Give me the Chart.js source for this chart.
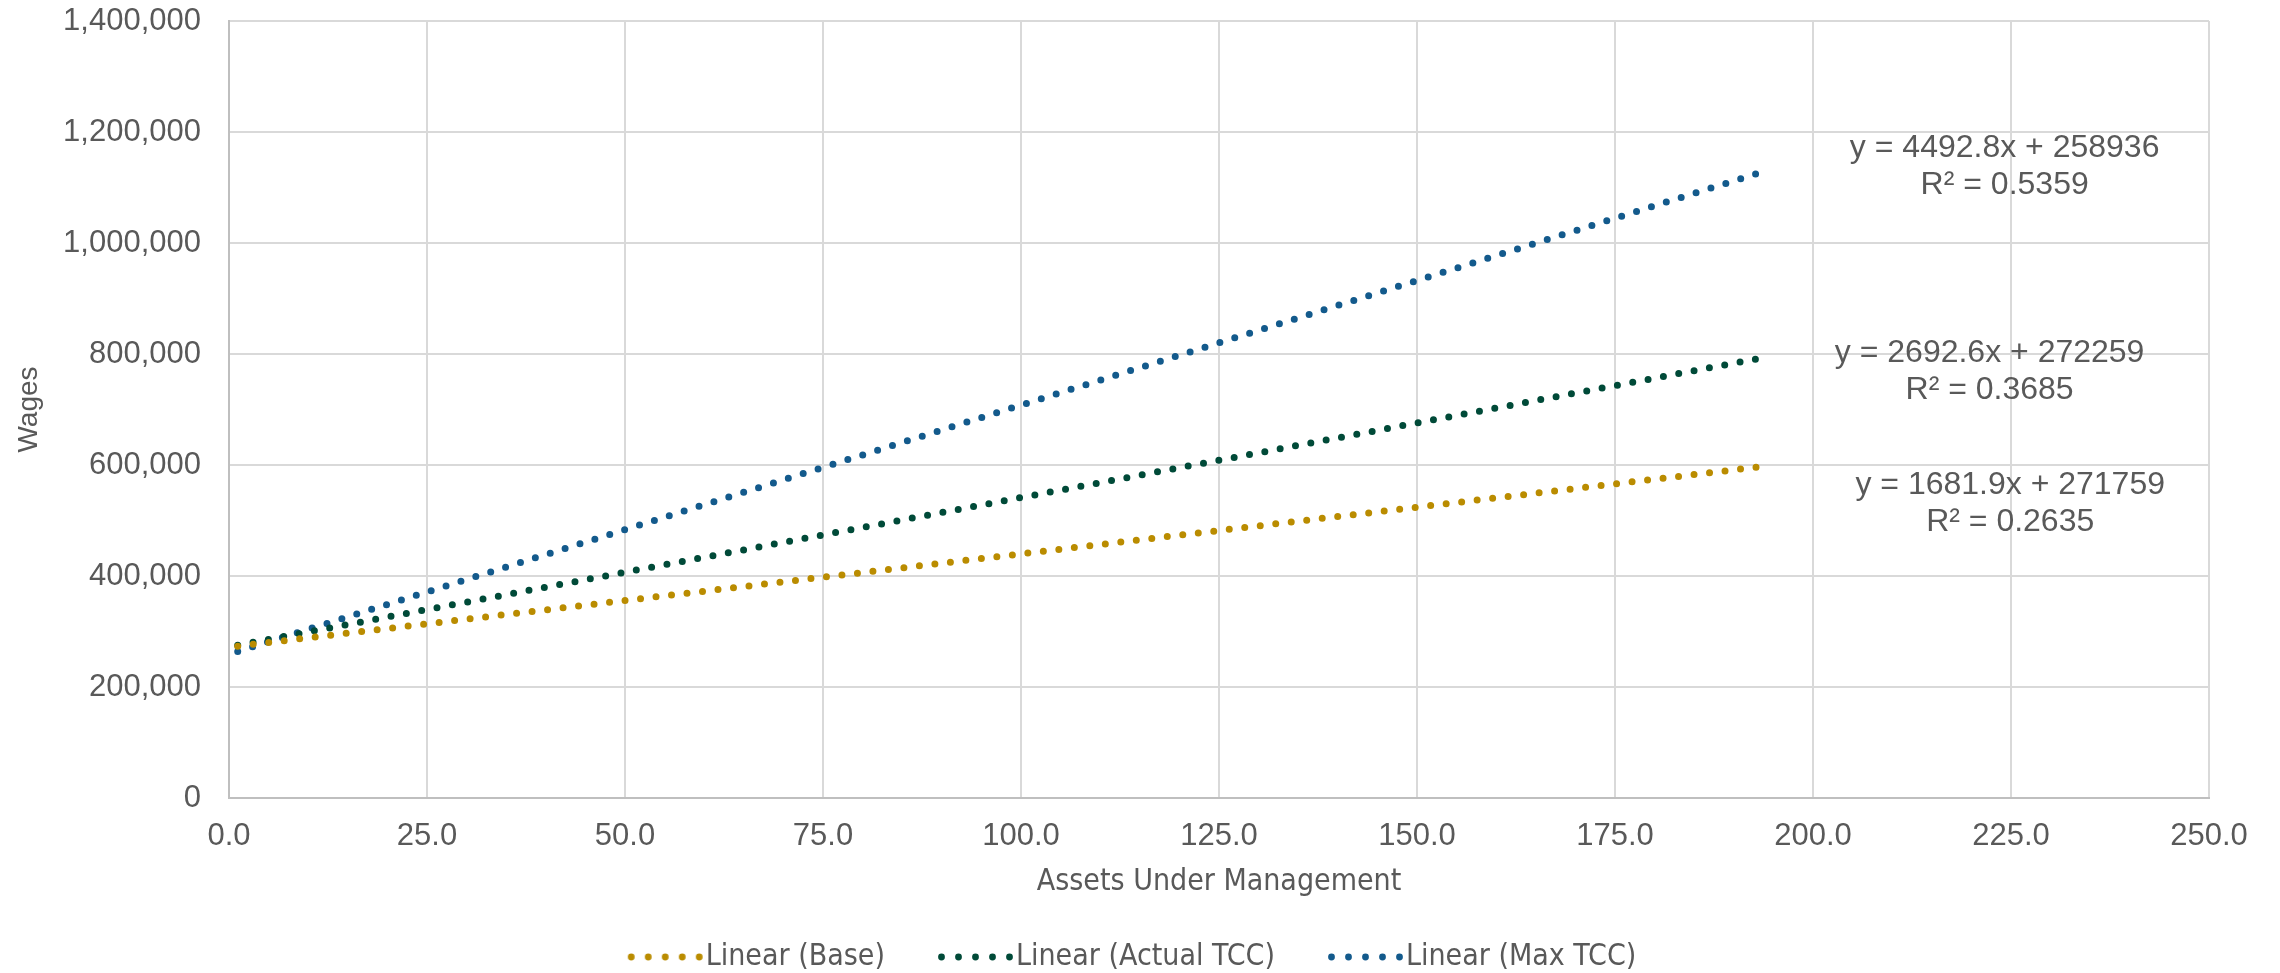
<!DOCTYPE html>
<html>
<head>
<meta charset="utf-8">
<script src="https://cdn.jsdelivr.net/npm/chart.js@4.4.1/dist/chart.umd.min.js"></script>
<style>
  html, body { margin: 0; padding: 0; background: #fff; }
  #wrap { width: 2280px; height: 973px; }
</style>
</head>
<body>
<div id="wrap"><canvas id="trendChart" width="2280" height="973"></canvas></div>
<script>
// trend line end points (x = assets, y = wages)
var seriesNames = ["Linear (Base)", "Linear (Actual TCC)", "Linear (Max TCC)"];
var seriesColors = ["#BA8C00", "#004A38", "#135A8C"];
var baseX = [1.1, 193.2];
var baseY = [273600, 596600];
var actualX = [1.1, 193.2];
var actualY = [275200, 792000];
var maxX = [1.1, 193.2];
var maxY = [264000, 1126300];

// equation labels: text lines and where they sit (data coordinates)
var eqLines = [
    ["y = 1681.9x + 271759", "R\u00b2 = 0.2635"],
    ["y = 2692.6x + 272259", "R\u00b2 = 0.3685"],
    ["y = 4492.8x + 258936", "R\u00b2 = 0.5359"]
];
var eqX = [224.9, 222.3, 224.2];
var eqY = [562900, 801000, 1170900];

var xTicks = [0, 25, 50, 75, 100, 125, 150, 175, 200, 225, 250];
var yTicks = [0, 200000, 400000, 600000, 800000, 1000000, 1200000, 1400000];

var textGrey = "#595959";
var plainFont = "'Liberation Sans', Arial, sans-serif";
var narrowFont = "'Liberation Sans Narrow', 'DejaVu Sans Condensed', 'Liberation Sans', sans-serif";

function toPoints(xs, ys) {
    var pts = [];
    for (var i = 0; i < xs.length; i++) {
        pts.push({x: xs[i], y: ys[i]});
    }
    return pts;
}

// five dots for the legend sample, pushed to the right so they meet the text
function dotSample(color) {
    var c = document.createElement("canvas");
    c.width = 106;
    c.height = 12;
    var ctx = c.getContext("2d");
    ctx.fillStyle = color;
    for (var i = 0; i < 5; i++) {
        ctx.beginPath();
        ctx.arc(30.5 + i * 17, 6, 3.4, 0, Math.PI * 2);
        ctx.fill();
    }
    return c;
}
var legendSamples = seriesColors.map(dotSample);

function dotted(label, pts, color) {
    return {
        label: label,
        data: pts,
        borderColor: color,
        backgroundColor: color,
        borderWidth: 7,
        borderCapStyle: "round",
        borderDash: [0, 15.6],
        pointRadius: 0,
        fill: false,
        tension: 0
    };
}

var equationLabels = {
    id: "equationLabels",
    afterDatasetsDraw: function (chart) {
        var ctx = chart.ctx;
        var xs = chart.scales.x, ys = chart.scales.y;
        ctx.save();
        ctx.font = "32px " + plainFont;
        ctx.fillStyle = textGrey;
        ctx.textAlign = "center";
        ctx.textBaseline = "middle";
        for (var i = 0; i < eqLines.length; i++) {
            var px = xs.getPixelForValue(eqX[i]);
            var py = ys.getPixelForValue(eqY[i]);
            for (var j = 0; j < eqLines[i].length; j++) {
                ctx.fillText(eqLines[i][j], px, py + j * 37);
            }
        }
        ctx.restore();
    }
};

// legend box is narrowed by the right padding, put it back under the page centre
var legendShift = {
    id: "legendShift",
    afterLayout: function (chart) {
        chart.legend.left += 22;
        chart.legend.right += 22;
    }
};

var chartElem = document.getElementById("trendChart");
var trendChart = new Chart(chartElem, {
    type: "line",
    data: {
        datasets: [
            dotted(seriesNames[0], toPoints(baseX, baseY), seriesColors[0]),
            dotted(seriesNames[1], toPoints(actualX, actualY), seriesColors[1]),
            dotted(seriesNames[2], toPoints(maxX, maxY), seriesColors[2])
        ]
    },
    options: {
        responsive: false,
        animation: false,
        layout: {padding: {top: 21, right: 71, left: 0, bottom: -9}},
        plugins: {
            tooltip: {enabled: false},
            legend: {
                position: "bottom",
                labels: {
                    usePointStyle: true,
                    pointStyleWidth: 74,
                    padding: 42,
                    color: textGrey,
                    font: {family: narrowFont, size: 30},
                    generateLabels: function (chart) {
                        return seriesNames.map(function (n, i) {
                            return {
                                text: n,
                                datasetIndex: i,
                                pointStyle: legendSamples[i],
                                fillStyle: seriesColors[i],
                                strokeStyle: seriesColors[i],
                                lineWidth: 0,
                                fontColor: textGrey,
                                hidden: false
                            };
                        });
                    }
                }
            }
        },
        scales: {
            x: {
                type: "linear",
                min: 0,
                max: 250,
                afterBuildTicks: function (scale) {
                    scale.ticks = xTicks.map(function (v) { return {value: v}; });
                },
                afterFit: function (scale) { scale.height = 102; },
                ticks: {
                    color: textGrey,
                    padding: 20,
                    maxRotation: 0,
                    font: {family: plainFont, size: 31},
                    callback: function (v) { return Number(v).toFixed(1); }
                },
                grid: {color: "#D9D9D9", lineWidth: 2, drawTicks: false},
                border: {color: "#BFBFBF", width: 2},
                title: {
                    display: true,
                    text: "Assets Under Management",
                    color: textGrey,
                    font: {family: narrowFont, size: 30},
                    padding: {top: 0, bottom: 0}
                }
            },
            y: {
                type: "linear",
                min: 0,
                max: 1400000,
                afterBuildTicks: function (scale) {
                    scale.ticks = yTicks.map(function (v) { return {value: v}; });
                },
                afterFit: function (scale) {
                    scale.width = 229;
                    // tick padding would otherwise push the plot down
                    scale.paddingTop = 0;
                    scale.paddingBottom = 0;
                },
                ticks: {
                    color: textGrey,
                    padding: 28,
                    font: {family: plainFont, size: 31},
                    callback: function (v) { return Number(v).toLocaleString("en-US"); }
                },
                grid: {color: "#D9D9D9", lineWidth: 2, drawTicks: false},
                border: {color: "#BFBFBF", width: 2},
                title: {
                    display: true,
                    text: "Wages",
                    color: textGrey,
                    font: {family: plainFont, size: 28},
                    padding: {top: 12, bottom: 0}
                }
            }
        }
    },
    plugins: [equationLabels, legendShift]
});
</script>
</body>
</html>
